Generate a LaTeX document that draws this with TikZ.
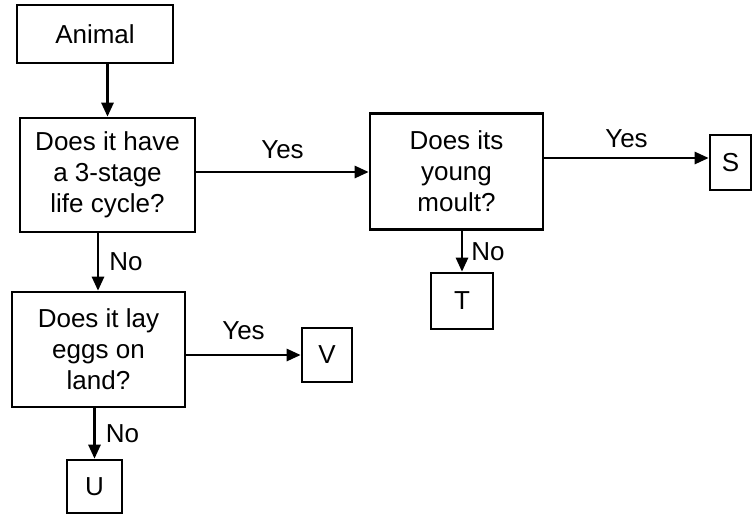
\documentclass[tikz,border=0pt]{standalone}
\usepackage{fontspec}
\setmainfont{Liberation Sans}
\usetikzlibrary{arrows.meta}
\begin{document}
\begin{tikzpicture}[x=1pt,y=-1pt,
  box/.style={draw,line width=2.6pt,rectangle,inner sep=0pt,align=center,
    font=\fontsize{26}{31}\selectfont},
  arr/.style={line width=2.6pt,-{Triangle[length=14pt,width=12pt]}},
  lbl/.style={font=\fontsize{26}{31}\selectfont,inner sep=0pt}]
\useasboundingbox (0,0) rectangle (753,515);
\node[box,minimum width=156pt,minimum height=58pt] (animal) at (95,34) {Animal};
\node[box,minimum width=175pt,minimum height=114pt] (q1) at (107.5,175) {Does it have\\a 3-stage\\life cycle?};
\node[box,minimum width=173pt,minimum height=116pt] (q2) at (456.5,171.5) {Does its\\young\\moult?};
\node[box,minimum width=41pt,minimum height=55pt] (s) at (730.5,162.5) {S};
\node[box,minimum width=62pt,minimum height=56pt] (t) at (462,301) {T};
\node[box,minimum width=173pt,minimum height=115pt] (q3) at (98.5,349.5) {Does it lay\\eggs on\\land?};
\node[box,minimum width=50pt,minimum height=54pt] (v) at (327,355) {V};
\node[box,minimum width=55pt,minimum height=53pt] (u) at (94.5,486.5) {U};
\draw[arr] (animal.south -| q1.north) -- (q1.north);
\draw[arr] (q1.east |- 0,172) -- (q2.west |- 0,172) node[lbl,midway,above=12pt] {Yes};
\draw[arr] (q2.east |- 0,158) -- (s.west |- 0,158) node[lbl,midway,above=9pt] {Yes};
\draw[arr] (q2.south -| t.north) -- (t.north) node[lbl,midway,right=8pt] {No};
\draw[arr] (q1.south -| 98,0) -- (q3.north -| 98,0) node[lbl,midway,right=10pt] {No};
\draw[arr] (q3.east |- v.west) -- (v.west) node[lbl,midway,above=14pt] {Yes};
\draw[arr] (q3.south -| u.north) -- (u.north) node[lbl,midway,right=10pt] {No};
\end{tikzpicture}
\end{document}
